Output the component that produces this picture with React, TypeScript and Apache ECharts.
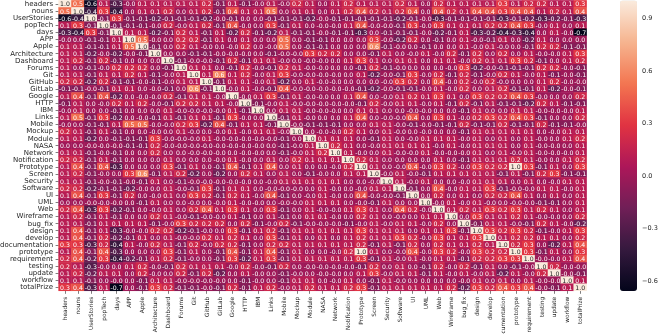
import React, { useEffect, useRef } from "react";
import * as echarts from "echarts";

const labels = ["headers","nouns","UserStories","popTech","days","APP","Apple","Architecture","Dashboard","Forums","Git","GitHub","GitLab","Google","HTTP","IBM","Links","Mobile","Mockup","Module","NASA","Network","Notification","Prototype","Screen","Security","Software","UI","UML","Web","Wireframe","bug_fix","design","develop","documentation","prototype","requirement","testing","update","workflow","totalPrize"];

// Upper triangle of the correlation matrix: row i lists columns i..40. -0.01 prints as "-0.0".
const upperRows: number[][] = [
  [1.0,0.5,-0.6,0.1,-0.3,-0.01,0.1,0.1,0.1,0.1,0.1,0.2,-0.1, 0.1,-0.1,-0.01,0.1,-0.01,0.2,0.1,0,0.1,0.2,0.1,0.1,0.1,0.2,0.1,0, 0.2,0.1,0.1,0.1,0.1,0.3,0.1,0.2,0.2,0.1,0.1,0.3],
  [1.0,-0.4,0.3,-0.4,0,0.1,0.1,0.2,0,0.1,0.2,-0.1, 0.4,0.1,0.1,0.5,0,0.1,0.1,0,0.1,0.2,0.4,0.2,0.1,0.2,0.4,0, 0.4,0.2,0.1,0.4,0.4,0.3,0.4,0.4,0.1,0.2,0.1,0.4],
  [1.0,-0.1,0.3,-0.1,-0.1,-0.2,-0.1,-0.1,-0.1,-0.2,-0.01, -0.1,0,0,-0.1,-0.1,-0.1,-0.2,-0.01,-0.1,-0.1,-0.1,-0.1,-0.1,-0.2,-0.1,-0.01, -0.3,-0.1,-0.1,-0.1,-0.1,-0.3,-0.1,-0.2,-0.3,-0.2,-0.1,-0.3],
  [1.0,-0.1,-0.1,-0.1,-0.01,0.2,-0.01,0.1,0.2,-0.1, 0.4,-0.01,0,0.3,-0.1,0.1,0,-0.01,-0.01,0.1,0.4,-0.01,-0.01,-0.1,0.3,-0.01, 0.3,0.1,0.1,0.1,0.2,0.2,0.4,0.3,-0.01,0.1,0,0.1],
  [1.0,0.1,0.1,-0.2,-0.1,0.2,0.1,-0.1,0.1, -0.2,0.2,-0.1,-0.2,0.1,-0.1,-0.1,-0.01,-0.1,-0.1,-0.3,0,-0.1,-0.1,-0.1,-0.01, -0.2,-0.1,0.1,-0.3,-0.2,-0.4,-0.3,-0.4,0,0.1,-0.01,-0.66],
  [1.0,0.5,-0.01,0,0.2,0.2,-0.1,0.1, 0,0.1,0,0,0.5,0,-0.1,-0.1,0,0,0,0.3,-0.01,-0.2,0.2,0, -0.1,0,0.1,-0.01,-0.1,0.1,0,-0.2,0.1,0,0,0],
  [1.0,-0.1,0,0.2,0.1,-0.01,0, -0.01,0.2,0,-0.01,0.5,0,-0.1,-0.1,0,0,0,0.6,-0.1,-0.01,0,-0.1, 0,0,0.1,-0.01,0.1,-0.01,0,-0.1,0.2,0.2,-0.1,-0.1],
  [1.0,0,0,-0.1,-0.1,-0.01, -0.01,-0.01,0,-0.1,-0.01,-0.01,0.3,0.2,0.2,0,0,-0.1,0.1,0,-0.01,0.1, -0.01,0.2,-0.1,0.2,0,0.2,0,0.1,-0.01,-0.01,0.1,0.3],
  [1.0,-0.1,-0.01,-0.01,-0.1, 0.2,-0.1,0.1,0.1,-0.01,0,-0.01,-0.01,0,0.1,0.3,0.1,0,0.1,0.1,0, 0.1,0.1,-0.01,0.2,0.1,0.1,0.3,0.2,-0.1,0,0.1,0.2],
  [1.0,0.1,0.1,0, -0.1,0.2,-0.01,-0.1,0.2,0.1,-0.01,-0.01,0,0,-0.1,0.2,-0.1,-0.01,0,0, 0,-0.01,0.3,-0.2,-0.01,-0.1,-0.1,-0.1,0.2,0.2,-0.01,-0.1],
  [1.0,0.1,0.6, 0.1,0.2,-0.01,0.1,0.3,-0.01,-0.01,-0.01,-0.01,0,0.1,-0.2,-0.01,-0.1,0.3,-0.01, 0.2,-0.1,0.2,-0.1,-0.01,0.2,0.1,-0.01,0.1,-0.1,-0.01,-0.1],
  [1.0,-0.1, 0.1,0.1,-0.01,0.1,-0.2,0,0.1,-0.01,-0.01,0,0,0,-0.01,0.3,0.2,0, 0.4,-0.01,0.2,-0.01,0.2,-0.01,0,0,0.1,0.2,-0.01,-0.01],
  [1.0, -0.01,0.1,-0.01,-0.1,0.4,-0.01,-0.01,-0.01,-0.01,-0.01,-0.1,-0.2,-0.01,-0.1,-0.1,-0.01, 0.1,-0.01,0.2,0,0.1,0.2,-0.1,-0.1,0.1,-0.2,-0.01,-0.1],
  [1.0,-0.01,0.1,0.3,-0.1,0.1,-0.01,-0.01,0,0.1,0.4,0,-0.01,0.1,0.2,0.1, 0.3,0.1,0,0.3,0.2,0.2,0.4,0.3,-0.01,0,0,0.2],
  [1.0,-0.1,-0.01,0.1,-0.01,-0.01,-0.01,-0.01,-0.01,-0.1,0.2,-0.01,0.1,0.1,-0.01, 0.1,-0.1,0.2,-0.1,0.1,-0.1,-0.1,-0.2,0.2,0.1,-0.1,-0.1],
  [1.0,0,0.1,0.1,-0.01,-0.01,-0.01,0,0.1,0.1,0,0,-0.01,-0.01, 0,0,-0.1,0.1,0,0,0.1,0.1,-0.01,-0.01,-0.01,0.1],
  [1.0,-0.1,0.1,-0.01,0,0,0.1,0.4,0,-0.01,-0.01,0.4,0, 0.3,0.1,-0.01,0.2,0.3,0.2,0.4,0.3,-0.1,0,0,0.2],
  [1.0,-0.01,-0.1,-0.1,-0.1,0,0,0.1,0.1,-0.01,-0.1,-0.01, -0.1,-0.1,0.2,-0.1,-0.1,0.2,-0.1,-0.1,0.2,-0.1,-0.1,-0.01],
  [1.0,0,-0.01,-0.01,0.2,0.1,0,0.1,-0.01,0,-0.01, 0,0,-0.1,0.1,0.1,0.1,0.1,0.1,0,-0.01,0.1,0.1],
  [1.0,0.1,0.1,0.1,0,-0.1,0.1,0,-0.01,0.1, 0.1,0.1,-0.01,0.1,0,0.1,0,0.1,-0.01,0,0.1,0.2],
  [1.0,0.2,0.1,0,-0.01,0.1,0.1,0.1,0.1, -0.01,0.1,-0.01,0.1,0.1,0.1,0,0.1,-0.01,-0.01,0,0.1],
  [1.0,0.1,-0.01,0,0.1,-0.01,-0.01,0.1, -0.01,-0.01,-0.01,0.1,0,0.1,-0.01,0.1,-0.01,-0.01,-0.01,0.1],
  [1.0,0.2,0.1,0,0,0,0, 0.1,0,-0.1,0.1,0.1,0.1,0.2,0.1,-0.01,0,0.1,0.2],
  [1.0,0.1,0,-0.01,0.4,-0.01, 0.3,0.2,-0.01,0.3,0.2,0.2,1.0,0.3,-0.1,0.1,0,0.3],
  [1.0,-0.01,0.1,-0.01,-0.1, 0.1,0.1,0.1,0.1,0.1,-0.1,0.1,-0.1,0.2,0.3,-0.1,-0.1],
  [1.0,0.1,-0.01,0.1, 0,0,-0.01,0.1,0.1,0.1,0,0.1,0,-0.01,0.1,0.1],
  [1.0,-0.1,0, 0.4,-0.01,0.1,0.1,0.3,-0.1,-0.01,-0.01,0.1,0.1,-0.01,0.1],
  [1.0,0, 0.2,0,0.1,0,0.2,0.2,0.4,0.1,0,0.1,0,0.1],
  [1.0, -0.01,0.1,-0.01,0.1,-0.01,0,-0.01,-0.01,-0.1,-0.1,0,0.1],
  [1.0,0.1,0.2,0.1,0.3,0.2,0.3,0.1,0.2,0.1,0,0.1],
  [1.0,0,0.3,0.1,0.1,0.2,0.1,-0.01,-0.01,0,0.2],
  [1.0,-0.1,0.1,0.1,-0.01,-0.1,0.2,0.1,-0.01,-0.2],
  [1.0,0.3,0.2,0.3,0.2,-0.1,-0.01,0.1,0.3],
  [1.0,0.1,0.2,0.2,0.1,0.1,0,0.2],
  [1.0,0.2,0.3,0,-0.2,0.1,0.4],
  [1.0,0.3,-0.1,0.1,0,0.3],
  [1.0,-0.01,-0.01,0.1,0.4],
  [1.0,0.2,-0.01,-0.01],
  [1.0,-0.01,-0.1],
  [1.0,0.1],
  [1.0],
];

const colorbarTicks = [-0.6, -0.3, 0, 0.3, 0.6, 0.9];
const vMin = -0.66;
const vMax = 1;
const rocket = ["#03051a","#35193e","#701f57","#ad1759","#e13342","#f37651","#f6b48f","#faebdd"];

export default function App() {
  const ref = useRef<HTMLDivElement>(null);
  useEffect(() => {
    const chart = echarts.init(ref.current!, null, { renderer: "svg" });
    const data: any[] = [];
    upperRows.forEach((row, i) => {
      row.forEach((v, k) => {
        const j = i + k;
        const diag = v >= 0.8;
        const lab = diag ? { label: { color: "#262626" } } : {};
        data.push({ value: [j, i, v], ...lab });
        if (j !== i) data.push({ value: [i, j, v], ...lab });
      });
    });
    const font = "'DejaVu Sans'";
    chart.setOption({
      animation: false,
      backgroundColor: "#fff",
      grid: [
        { left: 58.6, top: 0.4, width: 528, height: 290.4, outerBoundsMode: "none" },
        { left: 620, top: 0.5, width: 17, height: 290.5, outerBoundsMode: "none" },
      ],
      xAxis: [
        {
          type: "category", data: labels, gridIndex: 0,
          axisLine: { show: false },
          axisTick: { show: true, alignWithLabel: true, length: 3, lineStyle: { color: "#262626", width: 0.6 } },
          splitLine: { show: false },
          axisLabel: { interval: 0, rotate: 90, fontFamily: font, fontSize: 5.8, color: "#262626", margin: 6 },
        },
        { type: "value", gridIndex: 1, show: false, min: 0, max: 1 },
      ],
      yAxis: [
        {
          type: "category", data: labels, inverse: true, gridIndex: 0,
          axisLine: { show: false },
          axisTick: { show: true, alignWithLabel: true, length: 3, lineStyle: { color: "#262626", width: 0.6 } },
          splitLine: { show: false },
          axisLabel: { interval: 0, fontFamily: font, fontSize: 7, color: "#262626", margin: 5.5 },
        },
        {
          type: "value", gridIndex: 1, position: "right", min: vMin, max: vMax,
          axisLine: { show: false },
          splitLine: { show: false },
          axisTick: { show: true, length: 3, customValues: colorbarTicks, lineStyle: { color: "#262626", width: 0.6 } },
          axisLabel: {
            customValues: colorbarTicks, fontFamily: font, fontSize: 6.5, color: "#262626", margin: 5,
            formatter: (v: number) => v.toFixed(1).replace("-", "\u2212"),
          },
        },
      ],
      visualMap: {
        type: "continuous", show: true, min: vMin, max: vMax, dimension: 2, seriesIndex: 0,
        left: 620, top: 0.5, itemWidth: 17, itemHeight: 290.5, padding: 0, text: ["", ""],
        calculable: false, hoverLink: false, inRange: { color: rocket },
      },
      series: [
        {
          type: "heatmap", data, xAxisIndex: 0, yAxisIndex: 0, progressive: 0,
          label: {
            show: true, fontFamily: font, fontSize: 6.2, color: "#ffffff",
            formatter: (p: any) => p.value[2].toFixed(1),
          },
          itemStyle: { borderWidth: 0 },
          emphasis: { disabled: true },
        },
        { type: "line", data: [], xAxisIndex: 1, yAxisIndex: 1 },
      ],
    });
    return () => chart.dispose();
  }, []);
  return <div ref={ref} style={{ position: "absolute", left: 0, top: 0, width: 660, height: 334, filter: "blur(0.3px)" }} />;
}
